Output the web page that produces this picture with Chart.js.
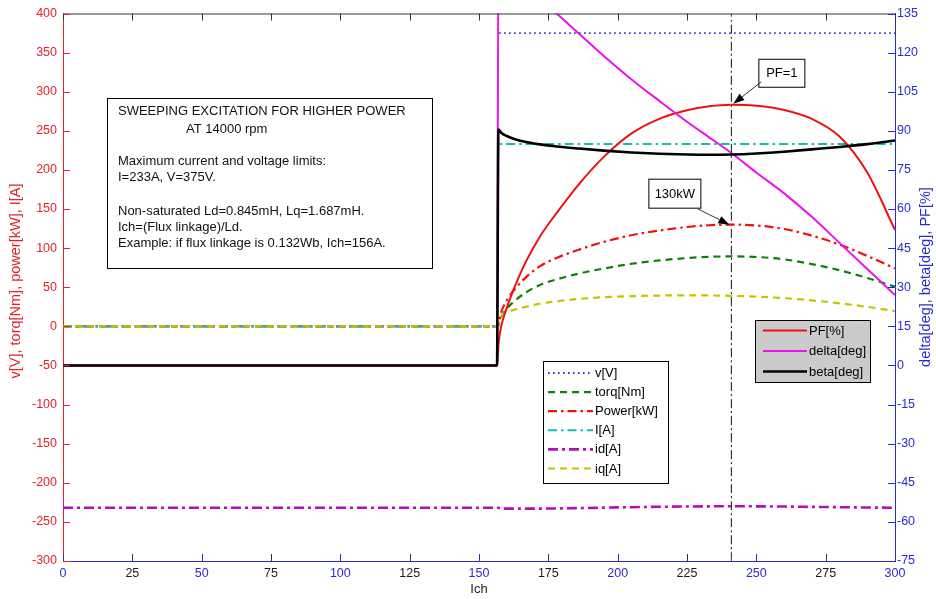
<!DOCTYPE html>
<html>
<head>
<meta charset="utf-8">
<script src="https://cdn.jsdelivr.net/npm/chart.js@4/dist/chart.umd.min.js"></script>
<style>
  html, body { margin: 0; padding: 0; background: #fff; }
  canvas { display: block; }
</style>
</head>
<body>
<canvas id="c" width="936" height="599"></canvas>
<script>
// Excitation current sweep (Ich, A)
const ICH      = [0, 156.5, 157, 158, 160, 163, 167, 172, 178, 186, 195, 205, 215, 225, 233, 241, 250, 260, 270, 280, 290, 300];

// Left axis series
const V_V      = [440, 440, 376, 375, 375, 375, 375, 375, 375, 375, 375, 375, 375, 375, 375, 375, 375, 375, 375, 375, 375, 375];
const TORQ_NM  = [0, 0, 1.5, 12, 22.5, 33, 43.5, 53, 60, 67.5, 74, 80, 84.3, 87.3, 88.9, 89.4, 88.7, 85.7, 79.6, 71.8, 61.8, 50.8];
const POWER_KW = [0, 0, 2, 18, 33, 48, 63, 77, 87.5, 98, 108, 116.5, 122.5, 127, 129.3, 130, 129, 124.5, 116, 104.5, 90, 74];
const I_A      = [0, 0, 233, 233, 233, 233, 233, 233, 233, 233, 233, 233, 233, 233, 233, 233, 233, 233, 233, 233, 233, 233];
const ID_A     = [-232, -232, -232, -233, -233, -233, -233, -233, -232.8, -232.4, -231.8, -231.2, -230.7, -230.3, -230.1, -230, -230.1, -230.4, -230.8, -231.2, -231.6, -232];
const IQ_A     = [0, 0, 3, 13, 18, 21.5, 25, 29, 32, 35, 37.2, 38.6, 39.4, 39.6, 39.5, 39, 38, 36, 33.2, 29.5, 25, 19.5];

// Right axis series
const PF_PCT    = [0, 0, 8, 15, 22, 30.5, 40, 49.5, 58.5, 69.5, 80, 89, 94.6, 97.9, 99.4, 100, 99.6, 98, 94.6, 87.8, 74, 52];
const DELTA_DEG = [0, 0, 156, 154.5, 152.5, 149.5, 145.5, 140.5, 135, 127.3, 118.7, 109.7, 101.5, 93.5, 87.5, 81.5, 74, 66, 57, 47, 37, 27];
const BETA_DEG  = [0, 0, 90.5, 89.3, 88, 86.8, 85.7, 84.8, 84, 83.2, 82.4, 81.7, 81.2, 80.9, 80.8, 80.9, 81.3, 82, 82.9, 83.8, 84.9, 86.3];

// Operating point of unity power factor / peak power
const PF_UNITY_ICH = 241;
const PEAK_POWER_KW = 130;
const PEAK_PF = 100;

// Axis ranges and tick steps
const X_RANGE = [0, 300], X_STEP = 25;
const YL_RANGE = [-300, 400], YL_STEP = 50;
const YR_RANGE = [-75, 135], YR_STEP = 15;

const NOTE_LINES = [
  'SWEEPING EXCITATION FOR HIGHER POWER',
  '              AT 14000 rpm',
  '',
  'Maximum current and voltage limits:',
  'I=233A, V=375V.',
  '',
  'Non-saturated Ld=0.845mH, Lq=1.687mH.',
  'Ich=(Flux linkage)/Ld.',
  'Example: if flux linkage is 0.132Wb, Ich=156A.'
];

const RED = '#e2222c', BLUE = '#2b2bd2', BLACK = '#1a1a1a';
const FONT = '"Liberation Sans", Arial, sans-serif';

function series(values) { return ICH.map((x, i) => ({ x, y: values[i] })); }

const datasets = [
  { label: 'v[V]', data: series(V_V), yAxisID: 'y', borderColor: '#3636c8', borderWidth: 1.8, borderDash: [1.6, 3.4], order: 8 },
  { label: 'torq[Nm]', data: series(TORQ_NM), yAxisID: 'y', borderColor: '#0a820a', borderWidth: 2.2, borderDash: [7, 5], order: 7 },
  { label: 'Power[kW]', data: series(POWER_KW), yAxisID: 'y', borderColor: '#f01010', borderWidth: 2.2, borderDash: [9, 4, 2.5, 4], order: 6 },
  { label: 'I[A]', data: series(I_A), yAxisID: 'y', borderColor: '#14bdb4', borderWidth: 2, borderDash: [9, 4, 2.5, 4], order: 5 },
  { label: 'id[A]', data: series(ID_A), yAxisID: 'y', borderColor: '#b80cb8', borderWidth: 2.6, borderDash: [10, 4, 3, 4], order: 4 },
  { label: 'iq[A]', data: series(IQ_A), yAxisID: 'y', borderColor: '#c4c400', borderWidth: 2.2, borderDash: [7, 5], order: 3 },
  { label: 'PF[%]', data: series(PF_PCT), yAxisID: 'y2', borderColor: '#f01010', borderWidth: 2, order: 2 },
  { label: 'delta[deg]', data: series(DELTA_DEG), yAxisID: 'y2', borderColor: '#ee10ee', borderWidth: 2, order: 1 },
  { label: 'beta[deg]', data: series(BETA_DEG), yAxisID: 'y2', borderColor: '#000000', borderWidth: 2.6, order: 0 },
  { label: 'marker', data: [{ x: PF_UNITY_ICH, y: YL_RANGE[0] }, { x: PF_UNITY_ICH, y: YL_RANGE[1] }], yAxisID: 'y',
    borderColor: '#111', borderWidth: 1, borderDash: [9, 3, 2, 3], order: 9 }
];
datasets.forEach(d => {
  d.pointRadius = 0; d.fill = false;
  d.cubicInterpolationMode = 'monotone';
});

const LEFT_LEGEND = ['v[V]', 'torq[Nm]', 'Power[kW]', 'I[A]', 'id[A]', 'iq[A]'];
const RIGHT_LEGEND = ['PF[%]', 'delta[deg]', 'beta[deg]'];

function lineSample(ctx, ds, x0, x1, y) {
  ctx.save();
  ctx.strokeStyle = ds.borderColor;
  ctx.lineWidth = ds.borderWidth;
  ctx.setLineDash(ds.borderDash || []);
  ctx.beginPath(); ctx.moveTo(x0, y); ctx.lineTo(x1, y); ctx.stroke();
  ctx.restore();
}

function legendBox(ctx, chart, labels, box, rows, fill) {
  ctx.save();
  ctx.fillStyle = fill;
  ctx.fillRect(box.x, box.y, box.w, box.h);
  ctx.strokeStyle = '#000'; ctx.lineWidth = 1; ctx.setLineDash([]);
  ctx.strokeRect(box.x + 0.5, box.y + 0.5, box.w, box.h);
  ctx.font = '13px ' + FONT;
  ctx.fillStyle = '#000';
  ctx.textBaseline = 'middle';
  labels.forEach((lab, i) => {
    const ds = chart.data.datasets.find(d => d.label === lab);
    const y = box.y + rows.first + i * rows.step;
    lineSample(ctx, ds, box.x + rows.lx0, box.x + rows.lx1, y);
    ctx.fillText(lab, box.x + rows.tx, y + 0.5);
  });
  ctx.restore();
}

function arrow(ctx, x0, y0, x1, y1) {
  ctx.save();
  ctx.strokeStyle = '#333'; ctx.fillStyle = '#000'; ctx.lineWidth = 1; ctx.setLineDash([]);
  const a = Math.atan2(y1 - y0, x1 - x0);
  const hl = 11, hw = 4;
  ctx.beginPath(); ctx.moveTo(x0, y0); ctx.lineTo(x1 - hl * Math.cos(a), y1 - hl * Math.sin(a)); ctx.stroke();
  ctx.beginPath();
  ctx.moveTo(x1, y1);
  ctx.lineTo(x1 - hl * Math.cos(a) + hw * Math.sin(a), y1 - hl * Math.sin(a) - hw * Math.cos(a));
  ctx.lineTo(x1 - hl * Math.cos(a) - hw * Math.sin(a), y1 - hl * Math.sin(a) + hw * Math.cos(a));
  ctx.closePath(); ctx.fill();
  ctx.restore();
}

function labelBox(ctx, text, x, y, w, h) {
  ctx.save();
  ctx.fillStyle = '#fff'; ctx.fillRect(x, y, w, h);
  ctx.strokeStyle = '#000'; ctx.lineWidth = 1; ctx.strokeRect(x + 0.5, y + 0.5, w, h);
  ctx.fillStyle = '#000'; ctx.font = '13px ' + FONT;
  ctx.textAlign = 'center'; ctx.textBaseline = 'middle';
  ctx.fillText(text, x + w / 2 + 0.5, y + h / 2 + 1);
  ctx.restore();
}

const decorations = {
  id: 'decorations',
  beforeDraw(chart) {
    const ctx = chart.ctx;
    ctx.save(); ctx.fillStyle = '#fff'; ctx.fillRect(0, 0, chart.width, chart.height); ctx.restore();
  },
  afterDraw(chart) {
    const ctx = chart.ctx;
    const { x, y, y2 } = chart.scales;
    const a = chart.chartArea;
    const TL = 7;
    ctx.save();
    ctx.lineWidth = 1; ctx.setLineDash([]);
    // top frame line
    ctx.strokeStyle = '#333';
    ctx.beginPath(); ctx.moveTo(a.left, a.top + 0.5); ctx.lineTo(a.right, a.top + 0.5); ctx.stroke();
    // inward tick marks
    x.ticks.forEach(t => {
      const px = Math.round(x.getPixelForValue(t.value)) + 0.5;
      ctx.strokeStyle = '#333';
      ctx.beginPath(); ctx.moveTo(px, a.top); ctx.lineTo(px, a.top + TL); ctx.stroke();
      ctx.strokeStyle = (t.value % 50 === 0) ? BLUE : '#333';
      ctx.beginPath(); ctx.moveTo(px, a.bottom); ctx.lineTo(px, a.bottom - TL); ctx.stroke();
    });
    ctx.strokeStyle = RED;
    y.ticks.forEach(t => {
      const py = Math.round(y.getPixelForValue(t.value)) + 0.5;
      ctx.beginPath(); ctx.moveTo(a.left, py); ctx.lineTo(a.left + TL, py); ctx.stroke();
    });
    ctx.strokeStyle = BLUE;
    y2.ticks.forEach(t => {
      const py = Math.round(y2.getPixelForValue(t.value)) + 0.5;
      ctx.beginPath(); ctx.moveTo(a.right, py); ctx.lineTo(a.right - TL, py); ctx.stroke();
    });
    ctx.restore();

    // note box
    const nb = { x: 107, y: 98, w: 325, h: 170 };
    ctx.save();
    ctx.fillStyle = '#fff'; ctx.fillRect(nb.x, nb.y, nb.w, nb.h);
    ctx.strokeStyle = '#000'; ctx.lineWidth = 1; ctx.strokeRect(nb.x + 0.5, nb.y + 0.5, nb.w, nb.h);
    ctx.fillStyle = '#111'; ctx.font = '13px ' + FONT; ctx.textBaseline = 'middle';
    const rowY = [13.7, 31, 0, 63.7, 79.7, 0, 113.7, 129.7, 145.3];
    NOTE_LINES.forEach((s, i) => {
      if (!s) return;
      const indent = s.startsWith(' ') ? 79 : 11;
      ctx.fillText(s.trim(), nb.x + indent, nb.y + rowY[i]);
    });
    ctx.restore();

    // legends
    legendBox(ctx, chart, LEFT_LEGEND, { x: 543, y: 361, w: 125, h: 122 },
      { first: 12, step: 19.1, lx0: 5, lx1: 50, tx: 52 }, '#fff');
    legendBox(ctx, chart, RIGHT_LEGEND, { x: 755, y: 320, w: 115, h: 62 },
      { first: 10.5, step: 20.5, lx0: 8, lx1: 52, tx: 54 }, '#cbcbcb');

    // annotations at the unity power factor point
    const px = x.getPixelForValue(PF_UNITY_ICH);
    const pfY = y2.getPixelForValue(PEAK_PF);
    labelBox(ctx, 'PF=1', px + 27, pfY - 46, 46, 28);
    arrow(ctx, px + 30, pfY - 23, px + 2, pfY - 1);
    const pwY = y.getPixelForValue(PEAK_POWER_KW);
    labelBox(ctx, '130kW', px - 83, pwY - 46, 52, 29);
    arrow(ctx, px - 34, pwY - 16, px - 2, pwY);

    // axis titles
    ctx.save();
    ctx.font = '14.5px ' + FONT;
    ctx.textAlign = 'center'; ctx.textBaseline = 'middle';
    ctx.fillStyle = RED;
    ctx.translate(16, 281); ctx.rotate(-Math.PI / 2);
    ctx.fillText('v[V], torq[Nm], power[kW], I[A]', 0, 0);
    ctx.restore();
    ctx.save();
    ctx.font = '14.5px ' + FONT;
    ctx.textAlign = 'center'; ctx.textBaseline = 'middle';
    ctx.fillStyle = BLUE;
    ctx.translate(926, 277); ctx.rotate(-Math.PI / 2);
    ctx.fillText('delta[deg], beta[deg], PF[%]', 0, 0);
    ctx.restore();
    ctx.save();
    ctx.font = '13px ' + FONT; ctx.fillStyle = BLACK;
    ctx.textAlign = 'center'; ctx.textBaseline = 'middle';
    ctx.fillText('Ich', (a.left + a.right) / 2, 589);
    ctx.restore();
  }
};

new Chart(document.getElementById('c'), {
  type: 'line',
  data: { datasets },
  options: {
    responsive: false,
    animation: false,
    events: [],
    layout: { padding: { top: 13, left: 0, right: 0, bottom: 0 } },
    plugins: { legend: { display: false }, tooltip: { enabled: false } },
    scales: {
      x: {
        type: 'linear', position: 'bottom', min: X_RANGE[0], max: X_RANGE[1],
        afterFit: s => { s.height = 38; },
        grid: { drawOnChartArea: false, drawTicks: false },
        border: { color: BLUE, width: 1 },
        ticks: {
          stepSize: X_STEP, autoSkip: false, maxRotation: 0, padding: 5,
          font: { family: FONT, size: 12.5 },
          color: c => (c.tick && c.tick.value % 50 === 0) ? BLUE : BLACK,
          callback: v => String(v)
        }
      },
      y: {
        type: 'linear', position: 'left', min: YL_RANGE[0], max: YL_RANGE[1],
        afterFit: s => { s.width = 63; },
        grid: { drawOnChartArea: false, drawTicks: false },
        border: { color: RED, width: 1 },
        ticks: { stepSize: YL_STEP, autoSkip: false, padding: 6, font: { family: FONT, size: 12.5 }, color: RED, callback: v => String(v) }
      },
      y2: {
        type: 'linear', position: 'right', min: YR_RANGE[0], max: YR_RANGE[1],
        afterFit: s => { s.width = 41; },
        grid: { drawOnChartArea: false, drawTicks: false },
        border: { color: BLUE, width: 1 },
        ticks: { stepSize: YR_STEP, autoSkip: false, padding: 2, font: { family: FONT, size: 12.5 }, color: BLUE, callback: v => String(v) }
      }
    }
  },
  plugins: [decorations]
});
</script>
</body>
</html>
